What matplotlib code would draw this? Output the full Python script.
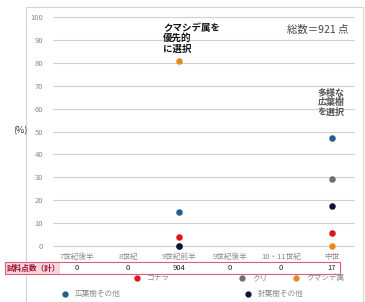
import matplotlib
matplotlib.use("Agg")
import matplotlib.pyplot as plt
from matplotlib.lines import Line2D
from matplotlib.patches import Rectangle
import matplotlib.transforms as mtransforms

plt.rcParams["font.family"] = ["Noto Sans CJK JP", "DejaVu Sans"]

periods = ["7世紀後半", "8世紀", "9世紀前半", "9世紀後半", "10・11世紀", "中世"]
sample_counts = [0, 0, 904, 0, 0, 17]

# percentages per taxon (None = no samples)
series_names = ["コナラ", "クリ", "クマシデ属", "広葉樹その他", "針葉樹その他"]
konara = [None, None, 4, None, None, 5.9]
kuri = [None, None, 0, None, None, 29.4]
kumashide = [None, None, 81, None, None, 0]
broadleaf_other = [None, None, 15, None, None, 47.1]
conifer_other = [None, None, 0, None, None, 17.6]

COLORS = {
    "コナラ": "#E01515",
    "クリ": "#6E6E6E",
    "クマシデ属": "#E8871E",
    "広葉樹その他": "#245C94",
    "針葉樹その他": "#0E1534",
}

W, H = 365, 302
fig = plt.figure(figsize=(W / 100, H / 100), dpi=100)

# outer frame
fig.add_artist(Rectangle((26 / W, -0.01), (363 - 26) / W, 1 - 7 / H + 0.01,
                         transform=fig.transFigure, fill=False,
                         edgecolor="#D4D4D4", linewidth=0.8))

ax = fig.add_axes([53 / W, 1 - 252.9 / H, (355 - 53) / W, (252.9 - 12.4) / H])
ax.set_xlim(-0.47, 5.45)
ax.set_ylim(-3, 102)
for s in ax.spines.values():
    s.set_visible(False)
ax.set_yticks(range(0, 101, 10))
ax.tick_params(axis="y", length=0, labelsize=5.5, labelcolor="#8A8A8A", pad=7)
ax.set_xticks([])
ax.grid(axis="y", color="#D0D0D0", linewidth=0.8)
ax.set_axisbelow(True)

xs = list(range(len(periods)))
for name, vals in zip(series_names, [konara, kuri, kumashide, broadleaf_other, conifer_other]):
    px = [x for x, v in zip(xs, vals) if v is not None]
    py = [v for v in vals if v is not None]
    ax.scatter(px, py, s=22, color=COLORS[name], zorder=3, linewidths=0)

trans = mtransforms.blended_transform_factory(ax.transData, ax.transAxes)
for x, lab, n in zip(xs, periods, sample_counts):
    ax.text(x, -0.017, lab, transform=trans, ha="center", va="center",
            fontsize=5.5, color="#8A8A8A")
    ax.text(x, -0.063, str(n), transform=trans, ha="center", va="center",
            fontsize=5.5, color="#222222")

# sample count row box
fig.add_artist(Rectangle((5 / W, 1 - 274 / H), 55 / W, 12 / H,
                         transform=fig.transFigure, facecolor="#F6D6DE",
                         edgecolor="none"))
fig.add_artist(Rectangle((5 / W, 1 - 274 / H), (340 - 5) / W, 12 / H,
                         transform=fig.transFigure, fill=False,
                         edgecolor="#E05A7A", linewidth=0.8))
fig.text(7 / W, 1 - 268 / H, "試料点数（計）", ha="left", va="center",
         fontsize=5.5, color="#A01030", fontweight="bold")

fig.text(13 / W, 1 - 131 / H, "(%)", ha="left", va="center",
         fontsize=6.5, color="#333333")

ax.text(1.69, 97.5, "クマシデ属を\n優先的\nに選択", ha="left", va="top",
        fontsize=6.8, fontweight="bold", color="#111111", linespacing=1.05)
ax.text(4.12, 94.3, "総数＝921 点", ha="left", va="center",
        fontsize=7.5, color="#444444")
ax.text(4.98, 68.5, "多様な\n広葉樹\nを選択", ha="center", va="top",
        fontsize=6.5, fontweight="bold", color="#555555", linespacing=1.05)

# legend
legend_pos = {
    "コナラ": (137, 278),
    "クリ": (242, 278),
    "クマシデ属": (296, 278),
    "広葉樹その他": (65, 294),
    "針葉樹その他": (248, 294),
}
for name in series_names:
    lx, ly = legend_pos[name]
    fig.add_artist(Line2D([lx / W], [1 - ly / H], marker="o", markersize=3.5,
                          color=COLORS[name], linestyle="none",
                          transform=fig.transFigure))
    fig.text((lx + 10) / W, 1 - ly / H, name, ha="left", va="center",
             fontsize=5.5, color="#8A8A8A")

fig.savefig("out.png", dpi=100)
